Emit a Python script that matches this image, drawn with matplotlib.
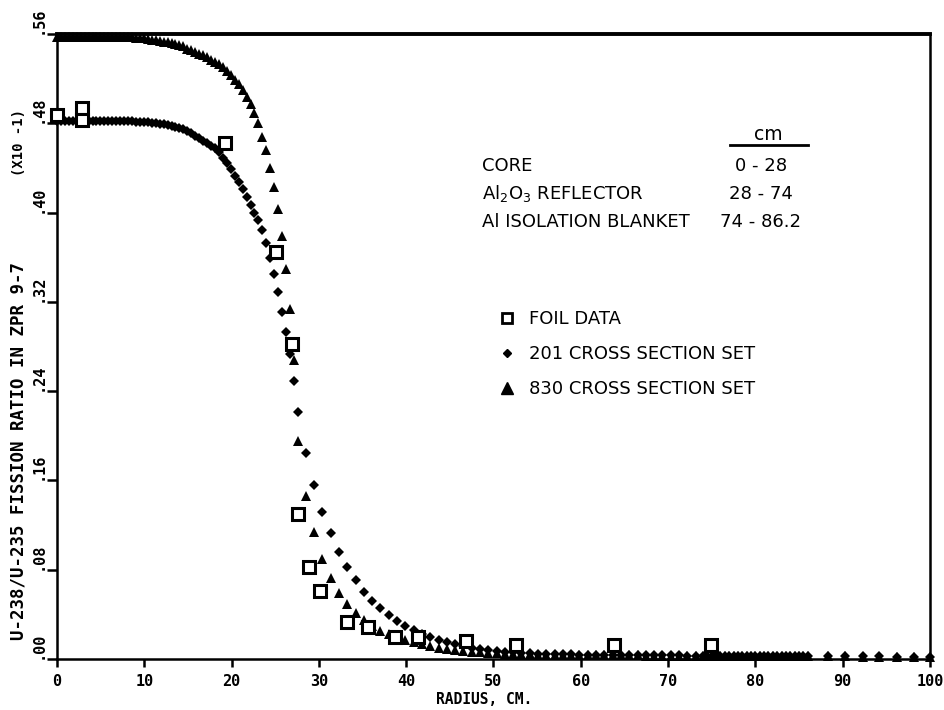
import matplotlib.pyplot as plt
import numpy as np
from matplotlib.lines import Line2D

# radial mesh, cm (core / Al2O3 reflector / Al blanket / outside)
r_core = np.linspace(0.0, 27.6, 62)
r_refl = np.linspace(28.5, 73.15, 48)
r_blanket = np.linspace(74.0, 86.0, 25)
r_outer = [88.3, 90.3, 92.3, 94.2, 96.2, 98.2, 100.0]

# 830 cross section set
set830_core = [
    0.557, 0.557, 0.557, 0.557, 0.557, 0.557, 0.557, 0.557, 0.557, 0.557,
    0.557, 0.557, 0.557, 0.557, 0.557, 0.557, 0.557, 0.557, 0.557, 0.557,
    0.5565, 0.556, 0.556, 0.5555, 0.555, 0.5545, 0.554, 0.553, 0.5525, 0.552,
    0.551, 0.550, 0.549, 0.547, 0.546, 0.544, 0.542, 0.541, 0.539, 0.537,
    0.535, 0.533, 0.530, 0.527, 0.523, 0.519, 0.515, 0.510, 0.504, 0.497,
    0.489, 0.480, 0.468, 0.456, 0.440, 0.423, 0.403, 0.379, 0.349, 0.314,
    0.268, 0.195,
]
set830_refl = [
    0.146, 0.114, 0.090, 0.073, 0.059, 0.049, 0.041, 0.035, 0.030, 0.025,
    0.022, 0.020, 0.017, 0.015, 0.013, 0.012, 0.010, 0.009, 0.008, 0.007,
    0.0065, 0.006, 0.0055, 0.005, 0.0048, 0.0045, 0.0043, 0.0041, 0.0040, 0.0039,
    0.0038, 0.0037, 0.0036, 0.0035, 0.0035, 0.0034, 0.0034, 0.0033, 0.0033, 0.0032,
    0.0032, 0.0031, 0.0031, 0.0030, 0.0030, 0.0030, 0.0030, 0.0030,
]
set830_blanket = [
    0.0030, 0.0030, 0.0029, 0.0029, 0.0029, 0.0028, 0.0028, 0.0028, 0.0028, 0.0027,
    0.0027, 0.0027, 0.0027, 0.0026, 0.0026, 0.0026, 0.0026, 0.0025, 0.0025, 0.0025,
    0.0025, 0.0025, 0.0024, 0.0024, 0.0024,
]
set830_outer = [0.0023, 0.0023, 0.0022, 0.0022, 0.0022, 0.0021, 0.0021]

# 201 cross section set
set201_core = [
    0.482, 0.482, 0.482, 0.482, 0.482, 0.482, 0.482, 0.482, 0.482, 0.482,
    0.482, 0.482, 0.482, 0.482, 0.482, 0.482, 0.482, 0.482, 0.482, 0.482,
    0.4815, 0.4815, 0.481, 0.481, 0.4805, 0.480, 0.4795, 0.479, 0.4785, 0.478,
    0.477, 0.476, 0.4745, 0.473, 0.471, 0.469, 0.467, 0.4645, 0.462, 0.460,
    0.458, 0.454, 0.449, 0.444, 0.439, 0.433, 0.427, 0.421, 0.414, 0.407,
    0.400, 0.393, 0.384, 0.373, 0.359, 0.345, 0.329, 0.311, 0.293, 0.273,
    0.249, 0.221,
]
set201_refl = [
    0.185, 0.156, 0.132, 0.113, 0.096, 0.082, 0.071, 0.060, 0.052, 0.046,
    0.039, 0.034, 0.030, 0.026, 0.022, 0.020, 0.017, 0.015, 0.013, 0.012,
    0.010, 0.009, 0.008, 0.007, 0.0065, 0.006, 0.0055, 0.005, 0.0048, 0.0046,
    0.0044, 0.0042, 0.0041, 0.0040, 0.0039, 0.0038, 0.0037, 0.0036, 0.0035, 0.0035,
    0.0034, 0.0034, 0.0033, 0.0033, 0.0032, 0.0032, 0.0031, 0.0031,
]
set201_blanket = [
    0.0031, 0.0031, 0.0030, 0.0030, 0.0030, 0.0029, 0.0029, 0.0029, 0.0029, 0.0028,
    0.0028, 0.0028, 0.0028, 0.0027, 0.0027, 0.0027, 0.0027, 0.0026, 0.0026, 0.0026,
    0.0026, 0.0026, 0.0025, 0.0025, 0.0025,
]
set201_outer = [0.0024, 0.0024, 0.0023, 0.0023, 0.0022, 0.0022, 0.0022]

# foil measurements
foil_r = [0.0, 2.9, 2.9, 19.2, 25.1, 26.9, 27.6, 28.9, 30.1, 33.2, 35.6,
          38.7, 41.4, 46.8, 52.6, 63.8, 74.9]
foil_ratio = [0.487, 0.494, 0.483, 0.462, 0.365, 0.282, 0.130, 0.082, 0.061,
              0.033, 0.029, 0.020, 0.020, 0.016, 0.0125, 0.0125, 0.0125]

x_ticks = [0, 10, 20, 30, 40, 50, 60, 70, 80, 90, 100]
y_ticks = [0.0, 0.08, 0.16, 0.24, 0.32, 0.40, 0.48, 0.56]
y_tick_labels = ['.00', '.08', '.16', '.24', '.32', '.40', '.48', '.56']

regions = ['CORE', 'Al$_2$O$_3$ REFLECTOR', 'Al ISOLATION BLANKET']
region_ranges = ['0 - 28', '28 - 74', '74 - 86.2']

r_all = np.concatenate([r_core, r_refl, r_blanket, r_outer])
y830 = np.concatenate([set830_core, set830_refl, set830_blanket, set830_outer])
y201 = np.concatenate([set201_core, set201_refl, set201_blanket, set201_outer])

mono = 'DejaVu Sans Mono'

fig = plt.figure(figsize=(9.45, 7.10), dpi=100)
ax = fig.add_axes([57 / 945, 1 - 659 / 710, 873 / 945, 625 / 710])

ax.plot(r_all, y830, linestyle='none', marker='^', ms=6.5, color='black',
        mew=0, clip_on=False, zorder=3)
ax.plot(r_all, y201, linestyle='none', marker='D', ms=4.6, color='black',
        mew=0, clip_on=False, zorder=3)
ax.plot(foil_r, foil_ratio, linestyle='none', marker='s', ms=8,
        mfc='white', mec='black', mew=2.2, clip_on=False, zorder=4)

ax.set_xlim(0, 100)
ax.set_ylim(0, 0.56)
ax.set_xticks(x_ticks)
ax.set_xticklabels([str(t) for t in x_ticks], fontfamily=mono,
                   fontweight='bold', fontsize=11)
ax.set_yticks(y_ticks)
ax.set_yticklabels(y_tick_labels, fontfamily=mono, fontweight='bold',
                   fontsize=11, rotation=90)
plt.setp(ax.get_yticklabels(), va='bottom', ha='right')
ax.tick_params(axis='x', direction='out', length=6, width=1.8, pad=5)
ax.tick_params(axis='y', direction='out', length=7, width=1.8, pad=1.5)

for side in ['left', 'bottom', 'right']:
    ax.spines[side].set_linewidth(1.8)
ax.spines['top'].set_linewidth(2.8)

fig.text(484 / 945, 1 - 699 / 710, 'RADIUS, CM.', fontfamily=mono,
         fontweight='bold', fontsize=10.5, ha='center', va='center')
fig.text(19 / 945, 1 - 451 / 710, 'U-238/U-235 FISSION RATIO IN ZPR 9-7',
         fontfamily=mono, fontweight='bold', fontsize=12.5, rotation=90,
         ha='center', va='center')
fig.text(19 / 945, 1 - 143 / 710, '(X10 -1)', fontfamily=mono,
         fontweight='bold', fontsize=10, rotation=90, ha='center', va='center')

# region table
fig.text(768 / 945, 1 - 134 / 710, 'cm', fontsize=13.5, ha='center',
         va='center')
fig.add_artist(Line2D([730 / 945, 808 / 945], [1 - 145 / 710, 1 - 145 / 710],
                      color='black', lw=2))
for i, (name, rng) in enumerate(zip(regions, region_ranges)):
    y = 1 - (166 + 28 * i) / 710
    fig.text(482 / 945, y, name, fontsize=13, ha='left', va='center')
    fig.text(761 / 945, y, rng, fontsize=13, ha='center', va='center')

handles = [
    Line2D([], [], linestyle='none', marker='s', ms=7.5, mfc='white',
           mec='black', mew=2),
    Line2D([], [], linestyle='none', marker='D', ms=4.5, color='black'),
    Line2D([], [], linestyle='none', marker='^', ms=8, color='black'),
]
labels = ['FOIL DATA', '201 CROSS SECTION SET', '830 CROSS SECTION SET']
ax.legend(handles, labels, loc='upper left',
          bbox_to_anchor=((498 - 57) / 873, (659 - 310) / 625),
          frameon=False, borderpad=0, borderaxespad=0, handlelength=1.0,
          handletextpad=0.7, labelspacing=0.95, prop={'size': 13})

fig.savefig('out.png', dpi=100, facecolor='white')
